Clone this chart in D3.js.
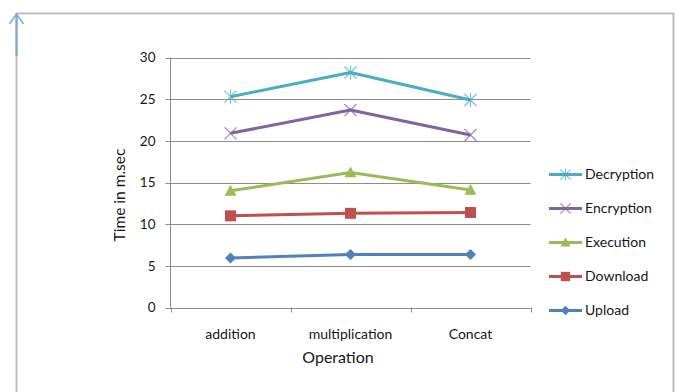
<!DOCTYPE html>
<html>
<head>
<meta charset="utf-8">
<script src="https://cdn.jsdelivr.net/npm/d3@7"></script>
<style>
  html, body { margin: 0; padding: 0; background: #fff; }
  svg { display: block; font-family: "Lato", "Open Sans", sans-serif; }
</style>
</head>
<body>
<svg id="chart" width="677" height="392"></svg>
<script>
// Operations on the x axis
const categories = ["addition", "multiplication", "Concat"];
// Time in milliseconds for each stage
const decryption = [25.3, 28.2, 24.9];
const encryption = [20.9, 23.7, 20.7];
const execution  = [14.0, 16.2, 14.1];
const download   = [11.0, 11.3, 11.4];
const upload     = [5.95, 6.35, 6.35];
const yTicks = [0, 5, 10, 15, 20, 25, 30];
const seriesNames = ["Decryption", "Encryption", "Execution", "Download", "Upload"];

const seriesList = [
  { name: "Upload",     values: upload,     color: "#4F81BD", marker: "diamond" },
  { name: "Download",   values: download,   color: "#C0504D", marker: "square" },
  { name: "Execution",  values: execution,  color: "#9BBB59", marker: "triangle" },
  { name: "Encryption", values: encryption, color: "#8064A2", marker: "x" },
  { name: "Decryption", values: decryption, color: "#4BACC6", marker: "star" }
];

const svg = d3.select("#chart");
const textColor = "#161616";

// Outer frame
svg.append("path")
  .attr("d", "M16.5,392 V13.5 H673.5 V392")
  .attr("fill", "none").attr("stroke", "#bdbdbd").attr("stroke-width", 2);
// Blue arrow on the left frame edge
svg.append("path")
  .attr("d", "M16.5,56 V14")
  .attr("stroke", "#7fa6d8").attr("stroke-width", 2).attr("fill", "none");
svg.append("path")
  .attr("d", "M9.5,24 L16.5,14 L23.5,24")
  .attr("stroke", "#7fa6d8").attr("stroke-width", 1.5).attr("fill", "none");

const plot = { left: 170.5, right: 530.5, top: 57.5, bottom: 307.5 };

const x = d3.scaleBand().domain(categories).range([plot.left, plot.right]);
const y = d3.scaleLinear().domain([0, 30]).range([plot.bottom, plot.top]);

// Horizontal gridlines
svg.append("g").selectAll("line").data(yTicks).join("line")
  .attr("x1", plot.left - 5).attr("x2", plot.right)
  .attr("y1", d => Math.round(y(d)) + 0.5).attr("y2", d => Math.round(y(d)) + 0.5)
  .attr("stroke", "#8c8c8c").attr("stroke-width", 1);

// Y axis line
svg.append("line")
  .attr("x1", plot.left).attr("x2", plot.left)
  .attr("y1", plot.top).attr("y2", plot.bottom)
  .attr("stroke", "#8c8c8c");

// X axis tick marks at band boundaries
const bounds = categories.map(c => x(c)).concat([x(categories[categories.length - 1]) + x.bandwidth()]);
svg.append("g").selectAll("line").data(bounds).join("line")
  .attr("x1", d => Math.round(d) + 0.5).attr("x2", d => Math.round(d) + 0.5)
  .attr("y1", plot.bottom).attr("y2", plot.bottom + 5)
  .attr("stroke", "#8c8c8c");

// Y tick labels
svg.append("g").selectAll("text").data(yTicks).join("text")
  .attr("x", plot.left - 15).attr("y", d => y(d))
  .attr("dy", "0.35em").attr("text-anchor", "end")
  .attr("font-size", 13.5).attr("fill", textColor)
  .text(d => d);

// X tick labels
svg.append("g").selectAll("text").data(categories).join("text")
  .attr("x", d => x(d) + x.bandwidth() / 2).attr("y", 334)
  .attr("dy", "0.35em").attr("text-anchor", "middle")
  .attr("font-size", 14).attr("fill", textColor)
  .text(d => d);

// Axis titles
svg.append("text")
  .attr("x", 338).attr("y", 357).attr("dy", "0.35em")
  .attr("text-anchor", "middle").attr("font-size", 16).attr("fill", textColor)
  .text("Operation");
svg.append("text")
  .attr("transform", "translate(120,195) rotate(-90)")
  .attr("dy", "0.35em").attr("text-anchor", "middle")
  .attr("font-size", 15.5).attr("fill", textColor)
  .text("Time in m.sec");

// Marker drawing
function drawMarker(g, type, color, size) {
  const s = size;
  if (type === "diamond") {
    g.append("path").attr("d", `M0,${-s} L${s},0 L0,${s} L${-s},0 Z`).attr("fill", color);
  } else if (type === "square") {
    g.append("rect").attr("x", -s).attr("y", -s).attr("width", 2 * s).attr("height", 2 * s).attr("fill", color);
  } else if (type === "triangle") {
    g.append("path").attr("d", `M0,${-s} L${s},${s * 0.8} L${-s},${s * 0.8} Z`).attr("fill", color);
  } else if (type === "x") {
    g.append("path").attr("d", `M${-s},${-s} L${s},${s} M${-s},${s} L${s},${-s}`)
      .attr("stroke", color).attr("stroke-width", 1.2).attr("opacity", 0.75);
  } else if (type === "star") {
    g.append("path").attr("d", `M${-s},${-s} L${s},${s} M${-s},${s} L${s},${-s} M0,${-s - 1} V${s + 1}`)
      .attr("stroke", color).attr("stroke-width", 1.2).attr("opacity", 0.75);
  }
}
const markerSize = { diamond: 5.5, square: 5.5, triangle: 6, x: 6, star: 6 };

const line = d3.line()
  .x((d, i) => x(categories[i]) + x.bandwidth() / 2)
  .y(d => y(d));

seriesList.forEach(s => {
  svg.append("path").datum(s.values)
    .attr("d", line).attr("fill", "none")
    .attr("stroke", s.color).attr("stroke-width", 3).attr("stroke-linejoin", "round");
  s.values.forEach((v, i) => {
    const g = svg.append("g")
      .attr("transform", `translate(${x(categories[i]) + x.bandwidth() / 2},${y(v)})`);
    drawMarker(g, s.marker, s.color, markerSize[s.marker]);
  });
});

// Legend
const byName = new Map(seriesList.map(s => [s.name, s]));
const legend = svg.append("g");
seriesNames.forEach((name, i) => {
  const s = byName.get(name);
  const ly = 174.5 + i * 34;
  const g = legend.append("g").attr("transform", `translate(0,${ly})`);
  g.append("line").attr("x1", 549).attr("x2", 582).attr("y1", 0).attr("y2", 0)
    .attr("stroke", s.color).attr("stroke-width", 3);
  const mg = g.append("g").attr("transform", "translate(565.5,0)");
  drawMarker(mg, s.marker, s.color, markerSize[s.marker] * 0.85);
  g.append("text").attr("x", 585).attr("y", 0).attr("dy", "0.35em")
    .attr("font-size", 14).attr("fill", textColor).text(name);
});
</script>
</body>
</html>
